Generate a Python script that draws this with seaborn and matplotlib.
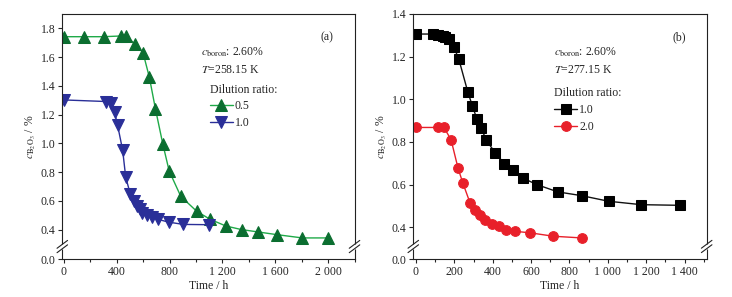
import numpy as np
import pandas as pd
import matplotlib
matplotlib.use("Agg")
import matplotlib.pyplot as plt
import seaborn as sns
from matplotlib.ticker import MultipleLocator, FuncFormatter, FixedLocator

# ---------------- data ----------------
# Panel (a): T = 258.15 K
a_t_05 = [0, 150, 300, 432, 472, 540, 599, 647, 693, 749, 797, 885, 1006, 1106, 1226, 1345, 1467, 1611, 1805, 2000]
a_c_05 = [1.742, 1.742, 1.742, 1.747, 1.747, 1.689, 1.631, 1.46, 1.24, 0.995, 0.808, 0.631, 0.527, 0.472, 0.425, 0.40, 0.384, 0.365, 0.342, 0.342]
a_t_10 = [0, 320, 358, 384, 406, 445, 468, 502, 528, 551, 575, 595, 630, 668, 710, 792, 905, 1100]
a_c_10 = [1.302, 1.291, 1.279, 1.215, 1.129, 0.952, 0.765, 0.65, 0.60, 0.565, 0.54, 0.516, 0.504, 0.488, 0.472, 0.452, 0.436, 0.434]

# Panel (b): T = 277.15 K
b_t_10 = [0, 90, 116, 139, 153, 172, 198, 223, 270, 294, 317, 341, 365, 414, 461, 508, 557, 630, 739, 865, 1004, 1174, 1374]
b_c_10 = [1.306, 1.306, 1.302, 1.299, 1.294, 1.281, 1.244, 1.189, 1.035, 0.969, 0.909, 0.865, 0.81, 0.748, 0.698, 0.667, 0.631, 0.60, 0.566, 0.548, 0.522, 0.506, 0.503]
b_t_20 = [0, 116, 146, 183, 219, 244, 282, 308, 334, 360, 398, 433, 470, 518, 595, 716, 865]
b_c_20 = [0.868, 0.868, 0.868, 0.81, 0.678, 0.608, 0.514, 0.483, 0.459, 0.436, 0.416, 0.405, 0.389, 0.381, 0.374, 0.358, 0.35]

# ---------------- style ----------------
sns.set_theme(style="ticks")
plt.rcParams['font.family'] = ['Liberation Serif', 'DejaVu Serif']
plt.rcParams['mathtext.fontset'] = 'stix'
FS = 8.5
plt.rcParams.update({
    'font.size': FS,
    'axes.linewidth': 0.8,
    'xtick.direction': 'out', 'ytick.direction': 'out',
    'xtick.major.size': 3, 'ytick.major.size': 3,
    'xtick.minor.size': 2, 'ytick.minor.size': 2,
    'xtick.major.width': 0.8, 'ytick.major.width': 0.8,
    'xtick.minor.width': 0.8,
    'xtick.labelsize': FS, 'ytick.labelsize': FS,
    'axes.edgecolor': '#222222',
})

fig = plt.figure(figsize=(7.32, 2.97), dpi=100)
axA = fig.add_axes([0.0851, 0.1263, 0.3992, 0.8266])
axB = fig.add_axes([0.5646, 0.1263, 0.4008, 0.8266])

def thou(x, pos):
    v = int(round(x))
    return f"{v:,}".replace(",", " ")

def add_break(ax, yb):
    # double-slash break marks on both vertical spines (axes coordinates)
    y0, y1 = ax.get_ylim()
    fy = (yb - y0) / (y1 - y0)
    dx, dy, gap = 0.018, 0.016, 0.009
    for xs in (0, 1):
        ax.plot([xs, xs], [fy - gap, fy + gap], transform=ax.transAxes, color='white', lw=2.5,
                clip_on=False, zorder=4, solid_capstyle='butt')
        for off in (-gap, gap):
            ax.plot([xs - dx, xs + dx], [fy + off - dy, fy + off + dy],
                    transform=ax.transAxes, color='#222222', lw=0.8, clip_on=False, zorder=5)

# ---------------- panel (a) ----------------
green_line = '#1faa48'
green_mk = '#0b6e30'
blue = '#2a2f98'
sns.lineplot(x=a_t_05, y=a_c_05, ax=axA, sort=False, color=green_line, lw=1.0, marker='^',
             markersize=8, markerfacecolor=green_mk, markeredgecolor=green_mk, label='0.5')
sns.lineplot(x=a_t_10, y=a_c_10, ax=axA, sort=False, color=blue, lw=1.0, marker='v',
             markersize=8, markerfacecolor=blue, markeredgecolor=blue, label='1.0')
a_ybot = 0.192
axA.set_xlim(-12, 2200)
axA.set_ylim(a_ybot, 1.9)
axA.xaxis.set_major_locator(MultipleLocator(400))
axA.xaxis.set_minor_locator(MultipleLocator(200))
axA.xaxis.set_major_formatter(FuncFormatter(thou))
a_yt = [a_ybot, 0.4, 0.6, 0.8, 1.0, 1.2, 1.4, 1.6, 1.8]
axA.yaxis.set_major_locator(FixedLocator(a_yt))
axA.set_yticklabels(['0.0'] + [f"{v:.1f}" for v in a_yt[1:]])
add_break(axA, 0.282)

# ---------------- panel (b) ----------------
black = '#000000'
red = '#e8202a'
sns.lineplot(x=b_t_10, y=b_c_10, ax=axB, sort=False, color='#111111', lw=1.0, marker='s',
             markersize=6.5, markerfacecolor=black, markeredgecolor=black, label='1.0')
sns.lineplot(x=b_t_20, y=b_c_20, ax=axB, sort=False, color=red, lw=1.0, marker='o',
             markersize=7, markerfacecolor=red, markeredgecolor=red, label='2.0')
b_ybot = 0.249
axB.set_xlim(-14, 1515)
axB.set_ylim(b_ybot, 1.4)
axB.xaxis.set_major_locator(MultipleLocator(200))
axB.xaxis.set_minor_locator(MultipleLocator(100))
axB.xaxis.set_major_formatter(FuncFormatter(thou))
b_yt = [b_ybot, 0.4, 0.6, 0.8, 1.0, 1.2, 1.4]
axB.yaxis.set_major_locator(FixedLocator(b_yt))
axB.set_yticklabels(['0.0'] + [f"{v:.1f}" for v in b_yt[1:]])
add_break(axB, 0.31)

ylab = r'$c_{\mathrm{B_2O_3}}$ / %'
for ax, tag in ((axA, '(a)'), (axB, '(b)')):
    for s in ax.spines.values():
        s.set_visible(True)
    ax.set_xlabel('Time / h', fontsize=FS, labelpad=1)
    ax.set_ylabel(ylab, fontsize=FS, labelpad=2)
    ax.tick_params(axis='both', which='both', top=False, right=False, pad=2)
    ax.text(0.905, 0.905, tag, transform=ax.transAxes, fontsize=FS, ha='center', va='center')

axA.text(0.475, 0.845, r'$c_{\mathrm{boron}}$: 2.60%', transform=axA.transAxes, fontsize=FS, va='center')
axA.text(0.475, 0.77, r'$T$=258.15 K', transform=axA.transAxes, fontsize=FS, va='center')
axB.text(0.48, 0.845, r'$c_{\mathrm{boron}}$: 2.60%', transform=axB.transAxes, fontsize=FS, va='center')
axB.text(0.48, 0.77, r'$T$=277.15 K', transform=axB.transAxes, fontsize=FS, va='center')

for ax, bx, by in ((axA, 0.49, 0.735), (axB, 0.465, 0.72)):
    ax.legend(title='Dilution ratio:', loc='upper left', bbox_to_anchor=(bx, by),
              frameon=False, fontsize=FS, title_fontsize=FS, handlelength=1.9,
              handletextpad=0.2, labelspacing=0.4, borderaxespad=0, alignment='left')

fig.savefig('out.png', dpi=100, facecolor='white')
